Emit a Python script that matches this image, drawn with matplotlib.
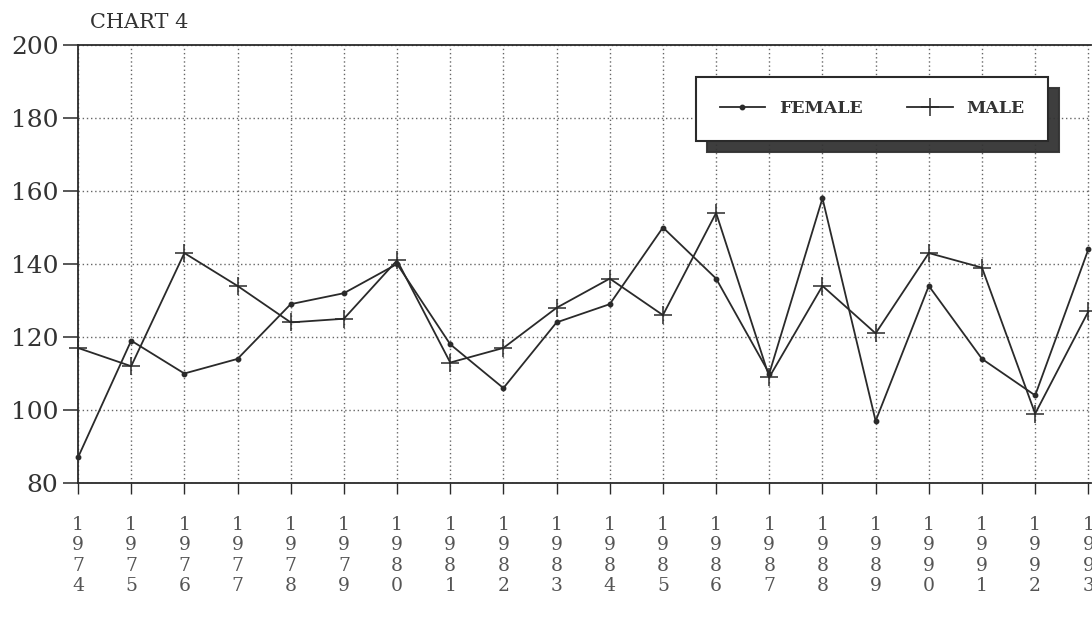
import numpy as np
import matplotlib.pyplot as plt

# values
years = list(range(1974, 1994))
female = [87, 119, 110, 114, 129, 132, 140, 118, 106, 124,
          129, 150, 136, 110, 158, 97, 134, 114, 104, 144]
male = [117, 112, 143, 134, 124, 125, 141, 113, 117, 128,
        136, 126, 154, 109, 134, 121, 143, 139, 99, 127]
y_ticks = [80, 100, 120, 140, 160, 180, 200]

plt.rcParams['font.family'] = ['DejaVu Serif']

fig = plt.figure(figsize=(10.92, 6.18), dpi=100)
ax = fig.add_axes([78/1092, 135/618, 1013/1092, 438/618])

ink = '#2a2a2a'
ax.plot(years, female, color=ink, lw=1.3, marker='o', ms=3.2, label='FEMALE', clip_on=False)
ax.plot(years, male, color=ink, lw=1.3, marker='+', ms=13, mew=1.1, label='MALE', clip_on=False)

ax.set_xlim(1974, 1993.05)
ax.set_ylim(80, 200)
ax.set_yticks(y_ticks)
ax.set_yticklabels([str(v) for v in y_ticks], fontsize=18, color='#333333')
ax.set_xticks(years)
ax.set_xticklabels(['\n'.join(str(y)) for y in years], fontsize=13.5,
                   color='#555555', linespacing=1.15)
ax.tick_params(axis='y', direction='out', length=11, width=1.1, pad=3, color=ink)
ax.tick_params(axis='x', direction='out', length=8, width=1.0, pad=16, color=ink)

ax.grid(True, color='#666666', linestyle=(0, (1, 2)), linewidth=1.0)
for side in ['left', 'bottom', 'top']:
    ax.spines[side].set_color(ink)
    ax.spines[side].set_linewidth(1.3)
ax.spines['right'].set_visible(False)

fig.text(90/1092, 1 - 22/618, 'CHART 4', fontsize=15, color='#333333', va='center', ha='left')

leg = ax.legend(loc='upper right', bbox_to_anchor=(0.9576, 0.927), ncol=2,
                fontsize=12.5, frameon=True, fancybox=False, handlelength=2.6,
                handletextpad=0.8, columnspacing=2.6, borderpad=1.35,
                borderaxespad=0,
                shadow={'ox': 8, 'oy': -8, 'shade': 0.8, 'alpha': 0.95})
leg.get_frame().set_edgecolor(ink)
leg.get_frame().set_linewidth(1.5)
for t in leg.get_texts():
    t.set_fontweight('bold')
    t.set_color('#333333')

fig.savefig('out.png', dpi=100)
